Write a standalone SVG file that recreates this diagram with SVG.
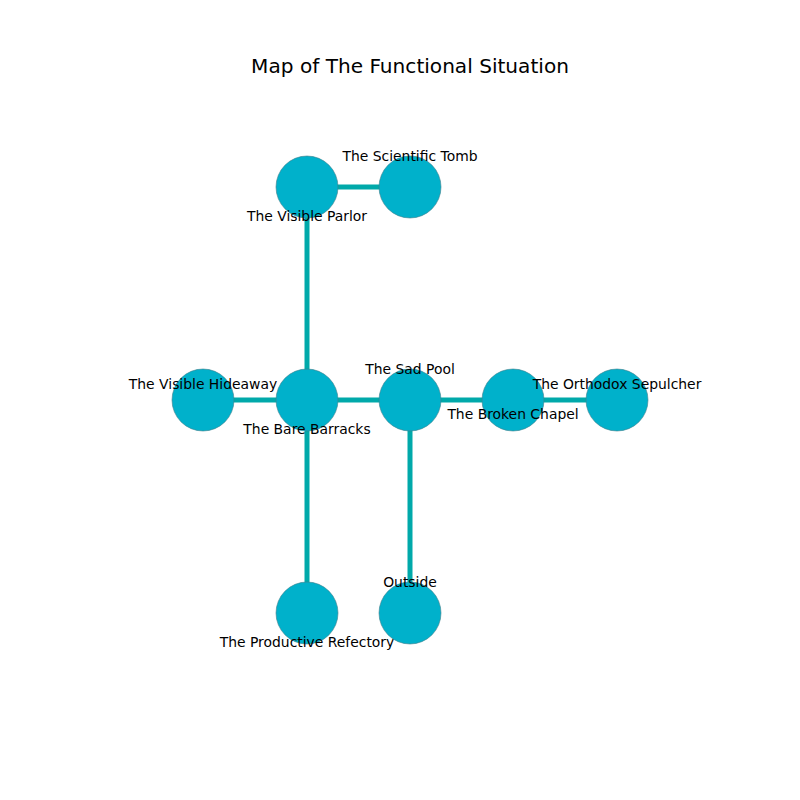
<svg xmlns="http://www.w3.org/2000/svg" width="800" height="800" viewBox="0 0 800 800">
<style>
.e{stroke:#00a9aa;stroke-width:5;fill:none}
.n{fill:#00b1cb;stroke:#3f7f8c;stroke-width:0.6}
.l{font-family:"DejaVu Sans",sans-serif;font-size:13.9px;fill:#000;text-anchor:middle}
.t{font-family:"DejaVu Sans",sans-serif;font-size:20.1px;fill:#000;text-anchor:middle}
</style>
<rect width="800" height="800" fill="#fff"/>
<text class="t" x="410" y="73">Map of The Functional Situation</text>
<g id="connectors">
<line class="e" x1="307" y1="187" x2="410" y2="187"/>
<line class="e" x1="307" y1="187" x2="307" y2="400"/>
<line class="e" x1="203" y1="400" x2="617" y2="400"/>
<line class="e" x1="307" y1="400" x2="307" y2="613"/>
<line class="e" x1="410" y1="400" x2="410" y2="613"/>
</g>
<g id="visible-parlor"><circle class="n" cx="307" cy="187" r="31"/><text class="l" x="307" y="221">The Visible Parlor</text></g>
<g id="scientific-tomb"><circle class="n" cx="410" cy="187" r="31"/><text class="l" x="410" y="161">The Scientific Tomb</text></g>
<g id="visible-hideaway"><circle class="n" cx="203" cy="400" r="31"/><text class="l" x="203" y="389">The Visible Hideaway</text></g>
<g id="bare-barracks"><circle class="n" cx="307" cy="400" r="31"/><text class="l" x="307" y="434">The Bare Barracks</text></g>
<g id="sad-pool"><circle class="n" cx="410" cy="400" r="31"/><text class="l" x="410" y="374">The Sad Pool</text></g>
<g id="broken-chapel"><circle class="n" cx="513" cy="400" r="31"/><text class="l" x="513" y="419">The Broken Chapel</text></g>
<g id="orthodox-sepulcher"><circle class="n" cx="617" cy="400" r="31"/><text class="l" x="617" y="389">The Orthodox Sepulcher</text></g>
<g id="productive-refectory"><circle class="n" cx="307" cy="613" r="31"/><text class="l" x="307" y="647">The Productive Refectory</text></g>
<g id="outside"><circle class="n" cx="410" cy="613" r="31"/><text class="l" x="410" y="587">Outside</text></g>
</svg>
